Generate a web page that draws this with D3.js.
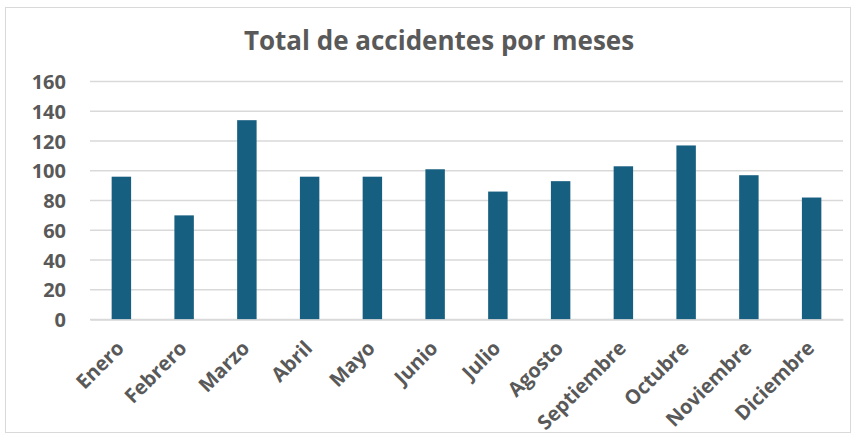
<!DOCTYPE html>
<html><head><meta charset="utf-8">
<script src="https://cdn.jsdelivr.net/npm/d3@7"></script>
<style>body{margin:0;background:#fff;} text{font-family:"Open Sans",sans-serif;}</style>
</head><body><svg id="c" width="858" height="438"></svg>
<script>
const months = ["Enero","Febrero","Marzo","Abril","Mayo","Junio","Julio","Agosto","Septiembre","Octubre","Noviembre","Diciembre"];
const accidents = [96,70,134,96,96,101,86,93,103,117,97,82];
const yTicks = [0,20,40,60,80,100,120,140,160];
const title = "Total de accidentes por meses";

const svg = d3.select("#c");
svg.append("rect").attr("x",5.5).attr("y",7.5).attr("width",845).attr("height",425)
  .attr("fill","#fff").attr("stroke","#d9d9d9");
const m = {left:90,right:15,top:81.5,bottom:118.5};
const W = 858, H = 438;
const x = d3.scaleBand().domain(months).range([m.left, W-m.right]).paddingInner(0.69).paddingOuter(0.345);
const y = d3.scaleLinear().domain([0,160]).range([H-m.bottom, m.top]);

svg.append("g").selectAll("line").data(yTicks).join("line")
  .attr("x1",m.left).attr("x2",W-m.right).attr("y1",d=>y(d)).attr("y2",d=>y(d))
  .attr("stroke","#d9d9d9").attr("stroke-width",1.5);

svg.append("g").selectAll("rect").data(accidents).join("rect")
  .attr("x",(d,i)=>x(months[i])).attr("width",x.bandwidth())
  .attr("y",d=>y(d)).attr("height",d=>y(0)-y(d)).attr("fill","#175F80");

const yAxis = svg.append("g").attr("transform",`translate(${m.left},0)`)
  .call(d3.axisLeft(y).tickValues(yTicks).tickSize(0).tickPadding(24));
yAxis.select(".domain").remove();
yAxis.selectAll("text").attr("font-size",20).attr("font-weight",700).attr("fill","#595959")
  .attr("font-family","'Open Sans',sans-serif").attr("dy","0.35em").attr("text-anchor","end");

const xAxis = svg.append("g").attr("transform",`translate(0,${y(0)})`)
  .call(d3.axisBottom(x).tickSize(0));
xAxis.select(".domain").attr("stroke","#d9d9d9").attr("stroke-width",1.5);
xAxis.selectAll("text").attr("font-size",20).attr("font-weight",700).attr("fill","#595959")
  .attr("font-family","'Open Sans',sans-serif")
  .attr("text-anchor","end").attr("dy",0).attr("y",0)
  .attr("transform","translate(4,30) rotate(-45)");

svg.append("text").attr("x",439).attr("y",50).attr("text-anchor","middle")
  .attr("font-size",26).attr("font-weight",700).attr("fill","#595959").text(title);
</script></body></html>
